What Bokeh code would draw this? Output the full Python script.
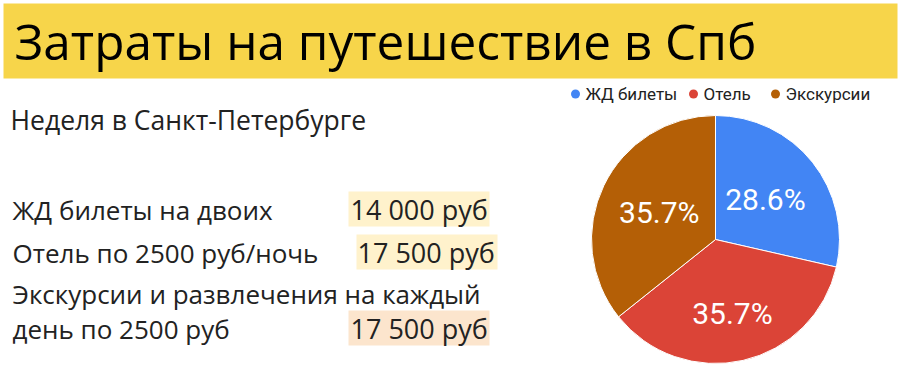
import math
from bokeh.plotting import figure
from bokeh.models import Range1d, ColumnDataSource
from bokeh.core.properties import value
from bokeh.embed import file_html
from bokeh.resources import INLINE

# ---------------- data ----------------
title = "Затраты на путешествие в Спб"
subtitle = "Неделя в Санкт-Петербурге"
categories = ["ЖД билеты", "Отель", "Экскурсии"]
costs = [14000, 17500, 17500]
slice_colors = ["#4285f4", "#db4437", "#b45f06"]
row_label_lines = [
    ["ЖД билеты на двоих"],
    ["Отель по 2500 руб/ночь"],
    ["Экскурсии и развлечения на каждый", "день по 2500 руб"],
]
highlight_colors = ["#fff2cc", "#fff2cc", "#fce5cd"]

# ---------------- layout (screen px, y down) ----------------
W, H = 900, 374
def Y(s):
    return H - s

def text_at(x, baseline, txt, size, font="Open Sans", color="#222222", align="left"):
    # place text by its baseline using a 'middle' anchor at the cap-height centre
    p.text(x=[x], y=[Y(baseline - 0.36 * size)], text=[txt], text_font=value(font),
           text_font_size=f"{size}px", text_color=color, text_baseline="middle",
           text_align=align)

p = figure(width=W, height=H, x_range=Range1d(0, W), y_range=Range1d(0, H),
           output_backend="svg", toolbar_location=None, min_border=0,
           x_axis_location=None, y_axis_location=None)
p.grid.visible = False
p.outline_line_color = None
p.background_fill_color = "white"
p.border_fill_color = "white"

# title banner
p.quad(left=[3], right=[897], top=[Y(3)], bottom=[Y(78)],
       fill_color="#f7d54a", line_color=None)
text_at(14, 58, title, 49.5, color="black")

# subtitle
text_at(10, 129, subtitle, 26.5)

# table rows
label_baselines = [[219], [262], [303, 338]]
value_x = [350, 357, 350]
box_lr = [(348, 489), (356, 497), (348, 489)]
for i, c in enumerate(costs):
    lines = row_label_lines[i]
    bls = label_baselines[i]
    for ln, b in zip(lines, bls):
        text_at(12, b, ln, 26)
    vb = bls[-1]
    l, r = box_lr[i]
    p.quad(left=[l], right=[r], top=[Y(vb - 28)], bottom=[Y(vb + 7)],
           fill_color=highlight_colors[i], line_color=None)
    vtxt = f"{c:,}".replace(",", " ") + " руб"
    text_at(value_x[i], vb, vtxt, 27)

# pie
cx, cy, R = 715, Y(239), 124
total = sum(costs)
fracs = [c / total for c in costs]
starts, ends = [], []
cum = 0.0
for f in fracs:
    starts.append(math.pi / 2 - cum * 2 * math.pi)
    cum += f
    ends.append(math.pi / 2 - cum * 2 * math.pi)
src = ColumnDataSource(dict(start=starts, end=ends, color=slice_colors, cat=categories))
p.wedge(x=cx, y=cy, radius=R, start_angle="start", end_angle="end",
        direction="clock", fill_color="color", line_color="white", line_width=1,
        source=src)

# percentage labels (placed so that the text box's outer corner sits at 0.83 R)
hw, hh, RL = 39, 12, 0.83 * R
lx, ly, lt = [], [], []
for s, e, f in zip(starts, ends, fracs):
    m = (s + e) / 2
    ux, uy = math.cos(m), math.sin(m)
    ccx = math.copysign(hw, ux)
    ccy = math.copysign(hh, uy)
    dot = ux * ccx + uy * ccy
    d = -dot + math.sqrt(dot * dot - (ccx ** 2 + ccy ** 2) + RL ** 2)
    lx.append(cx + d * ux)
    ly.append(cy + d * uy)
    lt.append(f"{f * 100:.1f}%")
p.text(x=lx, y=ly, text=lt, text_font=value("Roboto"), text_font_size="30px",
       text_color="white", text_align="center", text_baseline="middle")

# legend
leg_dot_x = [575, 693, 775]
leg_y = Y(93.5)
p.scatter(x=leg_dot_x, y=[leg_y] * 3, size=9, marker="circle",
          fill_color=slice_colors, line_color=None)
p.text(x=[x + 10 for x in leg_dot_x], y=[leg_y] * 3, text=categories,
       text_font=value("Roboto"), text_font_size="17px", text_color="#222222",
       text_baseline="middle")

open("out.html", "w").write(file_html(p, INLINE))
